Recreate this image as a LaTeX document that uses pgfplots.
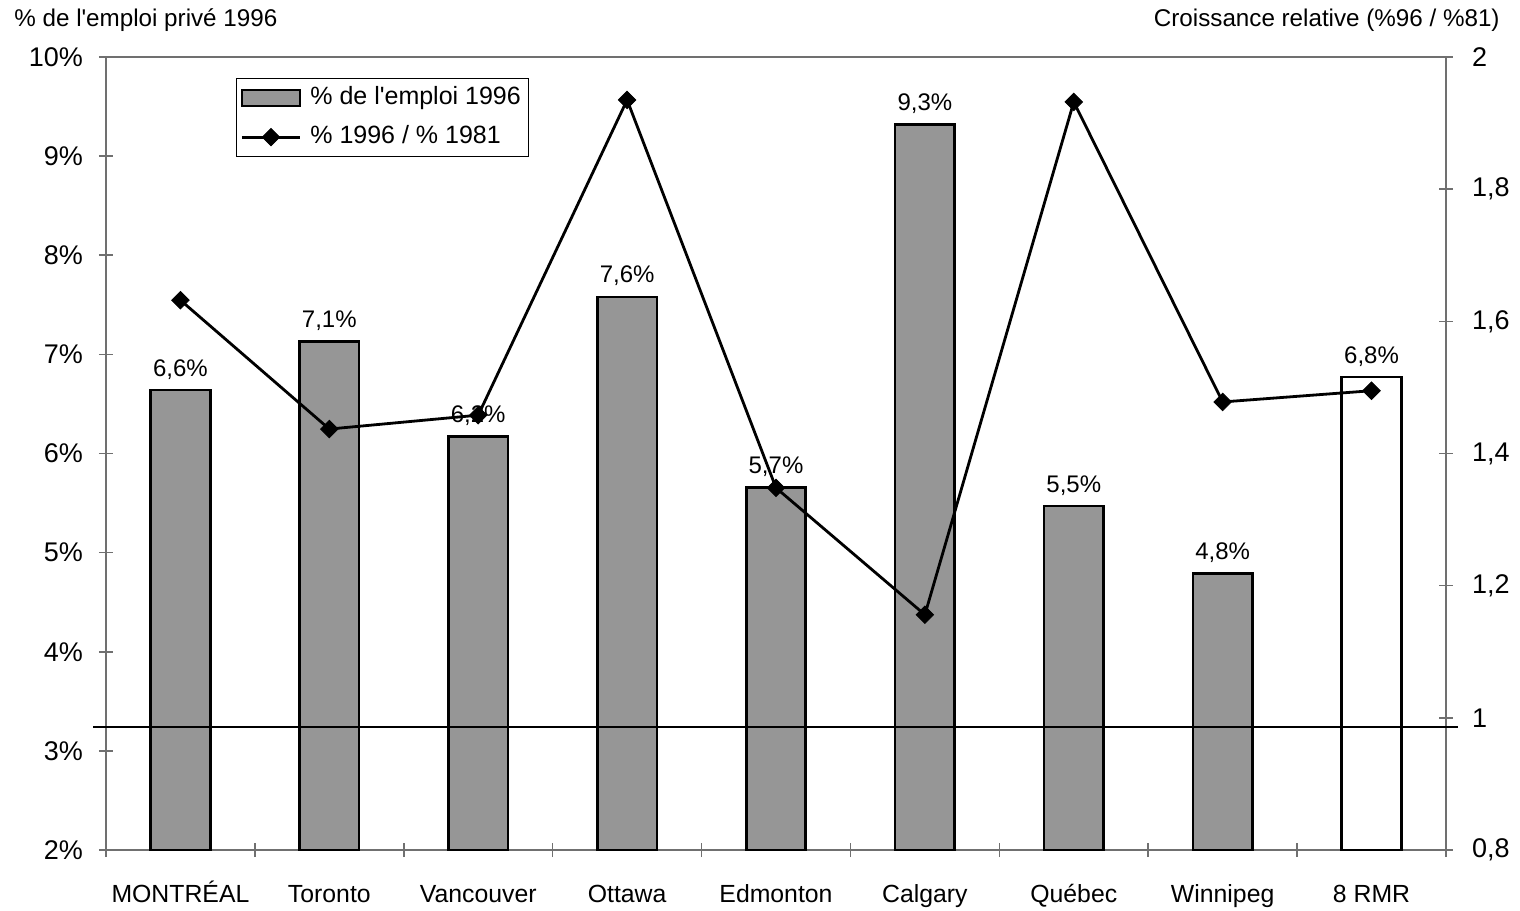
\documentclass[border=0pt]{standalone}
\usepackage{pgfplots}
\pgfplotsset{compat=1.18}
\usepackage{fontspec}
\setmainfont{Liberation Sans}[Ligatures=TeXOff]
\definecolor{barfill}{HTML}{969696}
\definecolor{axgray}{HTML}{707070}
\pgfplotsset{
  barlegend/.style={legend image code/.code={\draw[##1] (0pt,-4pt) rectangle (29pt,4pt);}},
  linelegend/.style={legend image code/.code={\draw[##1, mark repeat=2, mark phase=2] plot coordinates {(0pt,0pt) (14.5pt,0pt) (29pt,0pt)};}},
}
\begin{document}
\begin{tikzpicture}
\begin{axis}[
  at={(53pt,30pt)}, anchor=south west,
  scale only axis, width=670pt, height=396.5pt,
  xmin=-0.5, xmax=8.5, ymin=2, ymax=10,
  axis line style={axgray, line width=1pt},
  tick style={axgray, line width=0.8pt},
  tick align=center, major tick length=7pt,
  tick pos=left,
  ytick={2,3,4,5,6,7,8,9,10},
  yticklabel={\pgfmathprintnumber{\tick}\%},
  /pgf/number format/assume math mode=true,
  y tick label style={font=\fontsize{13.5}{15}\selectfont, anchor=east, xshift=-4.5pt},
  xtick={-0.5,0.5,...,8.5},
  xticklabels={},
  extra x ticks={0,1,2,3,4,5,6,7,8},
  extra x tick labels={MONTRÉAL,Toronto,Vancouver,Ottawa,Edmonton,Calgary,Québec,Winnipeg,8 RMR},
  extra x tick style={tick style={draw=none}},
  x tick label style={font=\fontsize{12.4}{14}\selectfont, anchor=base, yshift=-22.5pt},
  nodes near coords={\pgfmathprintnumber[fixed,fixed zerofill,precision=1,use comma,assume math mode=true]{\pgfplotspointmeta}\%},
  every node near coord/.append style={font=\fontsize{12}{13}\selectfont, anchor=base, yshift=7pt, black},
]
\addplot[ybar, bar width=0.4, fill=barfill, draw=black, line width=1.3pt]
  coordinates {(0,6.64) (1,7.13) (2,6.17) (3,7.58) (4,5.66) (5,9.32) (6,5.47) (7,4.79)};
\addplot[ybar, bar width=0.4, fill=white, draw=black, line width=1.3pt]
  coordinates {(8,6.77)};
\end{axis}
\begin{axis}[
  at={(53pt,30pt)}, anchor=south west,
  scale only axis, width=670pt, height=396.5pt,
  xmin=-0.5, xmax=8.5, ymin=0.8, ymax=2,
  clip=false,
  axis x line=none, axis y line*=right,
  axis line style={axgray, line width=1pt},
  tick style={axgray, line width=0.8pt},
  tick align=center, major tick length=7pt,
  ytick={0.8,1,1.2,1.4,1.6,1.8,2},
  /pgf/number format/use comma,
  /pgf/number format/assume math mode=true,
  y tick label style={font=\fontsize{13.5}{15}\selectfont, anchor=west, xshift=6pt},
  legend cell align=left,
  legend style={at={(0.097,0.9735)}, anchor=north west, draw=black, line width=0.6pt, fill=white,
    font=\fontsize{12.5}{14}\selectfont, inner sep=2pt, row sep=4pt, column sep=2.5pt,
    nodes={inner sep=2pt, text height=9pt, text depth=2.5pt}},
  legend entries={\% de l'emploi 1996, \% 1996 / \% 1981},
]
\addlegendimage{fill=barfill, draw=black, line width=1.3pt, barlegend}
\addplot[black, line width=1.4pt, mark=square*, mark size=3.1pt, mark options={rotate=45, line width=0.4pt}, linelegend]
  coordinates {(0,1.632) (1,1.437) (2,1.458) (3,1.935) (4,1.348) (5,1.156) (6,1.932) (7,1.478) (8,1.495)};
\draw[black, line width=1pt] (axis cs:-0.587,0.986) -- (axis cs:8.58,0.986);
\end{axis}
\node[anchor=base west, inner sep=0pt, font=\fontsize{12.1}{13}\selectfont] at (7pt,441.5pt) {\% de l'emploi privé 1996};
\node[anchor=base east, inner sep=0pt, font=\fontsize{12.1}{13}\selectfont] at (750pt,441.5pt) {Croissance relative (\%96 / \%81)};
\pgfresetboundingbox
\useasboundingbox (0,0) rectangle (760pt,455pt);
\end{tikzpicture}
\end{document}
